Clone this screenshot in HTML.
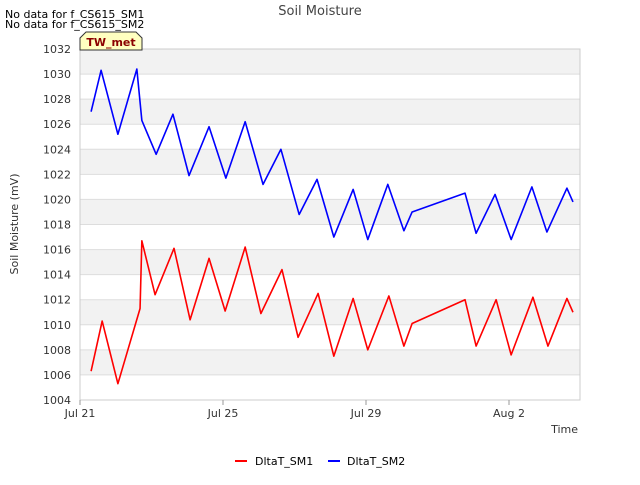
<!DOCTYPE html>
<html><head><meta charset="utf-8"><style>
body{margin:0;background:#fff;font-family:"Liberation Sans","DejaVu Sans",sans-serif;}
svg text{font-family:"DejaVu Sans","Liberation Sans",sans-serif;}
</style></head><body>
<svg id="chart" width="640" height="480" xmlns="http://www.w3.org/2000/svg">
<text x="5" y="18" font-size="11" fill="#000">No data for f_CS615_SM1</text>
<text x="5" y="28" font-size="11" fill="#000">No data for f_CS615_SM2</text>
<text x="320" y="15" font-size="13" fill="#444" text-anchor="middle">Soil Moisture</text>
<g id="bands"></g>
<g id="grid"></g>
<rect x="80" y="49" width="500" height="351" fill="none" stroke="#ccc"/>
<g id="yticks"></g>
<g id="xticks"></g>
<g id="series"></g>
<path d="M80,50 L80,38 L86,32 L136,32 L142,38 L142,50 Z" fill="#ffffc0" stroke="#333"/>
<text x="111" y="46" font-size="11" font-weight="bold" fill="#8b0000" text-anchor="middle">TW_met</text>
<text x="18" y="224" font-size="11" fill="#333" text-anchor="middle" transform="rotate(-90 18 224)">Soil Moisture (mV)</text>
<text x="578" y="433" font-size="11" fill="#333" text-anchor="end">Time</text>
<g>
<line x1="235" y1="461" x2="247" y2="461" stroke="#f00" stroke-width="2"/>
<text x="255" y="465" font-size="11" fill="#000">DltaT_SM1</text>
<line x1="328" y1="461" x2="340" y2="461" stroke="#00f" stroke-width="2"/>
<text x="347" y="465" font-size="11" fill="#000">DltaT_SM2</text>
</g>
</svg>
<script>
const yTicks=[1004,1006,1008,1010,1012,1014,1016,1018,1020,1022,1024,1026,1028,1030,1032];
const xTickDays=[0,4,8,12];
const xTickLabels=["Jul 21","Jul 25","Jul 29","Aug 2"];
const sm1Days=[0.31,0.62,1.06,1.68,1.73,2.1,2.63,3.08,3.61,4.06,4.62,5.06,5.65,6.1,6.66,7.1,7.64,8.05,8.64,9.06,9.29,10.77,11.08,11.64,12.06,12.67,13.09,13.62,13.79];
const sm1Values=[1006.3,1010.3,1005.3,1011.3,1016.7,1012.4,1016.1,1010.4,1015.3,1011.1,1016.2,1010.9,1014.4,1009,1012.5,1007.5,1012.1,1008,1012.3,1008.3,1010.1,1012,1008.3,1012,1007.6,1012.2,1008.3,1012.1,1011];
const sm2Days=[0.31,0.59,1.06,1.59,1.73,2.13,2.6,3.05,3.61,4.08,4.62,5.12,5.62,6.13,6.63,7.1,7.64,8.05,8.61,9.06,9.29,10.77,11.08,11.61,12.06,12.64,13.06,13.62,13.79];
const sm2Values=[1027,1030.3,1025.2,1030.4,1026.3,1023.6,1026.8,1021.9,1025.8,1021.7,1026.2,1021.2,1024,1018.8,1021.6,1017,1020.8,1016.8,1021.2,1017.5,1019,1020.5,1017.3,1020.4,1016.8,1021,1017.4,1020.9,1019.8];
const NS="http://www.w3.org/2000/svg";
const X=d=>80+d*35.75;
const Y=v=>400-(v-1004)*(351/28);
function mk(t,a,p){const e=document.createElementNS(NS,t);for(const k in a)e.setAttribute(k,a[k]);p.appendChild(e);return e;}
const bands=document.getElementById('bands'),grid=document.getElementById('grid'),yt=document.getElementById('yticks'),xt=document.getElementById('xticks'),ser=document.getElementById('series');
for(let i=0;i<yTicks.length-1;i++){
  if(i%2===1){const r=mk('rect',{x:80,y:Y(yTicks[i+1]),width:500,height:Y(yTicks[i])-Y(yTicks[i+1]),fill:'#f2f2f2'},bands);
  
  }
}
yTicks.forEach(v=>{
  const l=mk('line',{x1:80,x2:580,y1:Y(v),y2:Y(v),stroke:'#ddd'},grid);
  
  
  const t=mk('text',{x:71,y:Y(v)+4,'font-size':11,fill:'#333','text-anchor':'end'},yt);
  t.textContent=v;
  
  
});
xTickDays.forEach((d,i)=>{
  const l=mk('line',{x1:X(d),x2:X(d),y1:400,y2:405,stroke:'#999'},xt);
  
  
  const t=mk('text',{x:X(d),y:417,'font-size':11,fill:'#333','text-anchor':'middle'},xt);
  t.textContent=xTickLabels[i];
  
  
});
function line(days,vals,color,name){
  const p=mk('polyline',{points:days.map((d,i)=>X(d)+','+Y(vals[i])).join(' '),fill:'none',stroke:color,'stroke-width':1.6,'stroke-linejoin':'round'},ser);
  
  
}
line(sm1Days,sm1Values,'#f00','series-sm1-line');
line(sm2Days,sm2Values,'#00f','series-sm2-line');
</script>
</body></html>
